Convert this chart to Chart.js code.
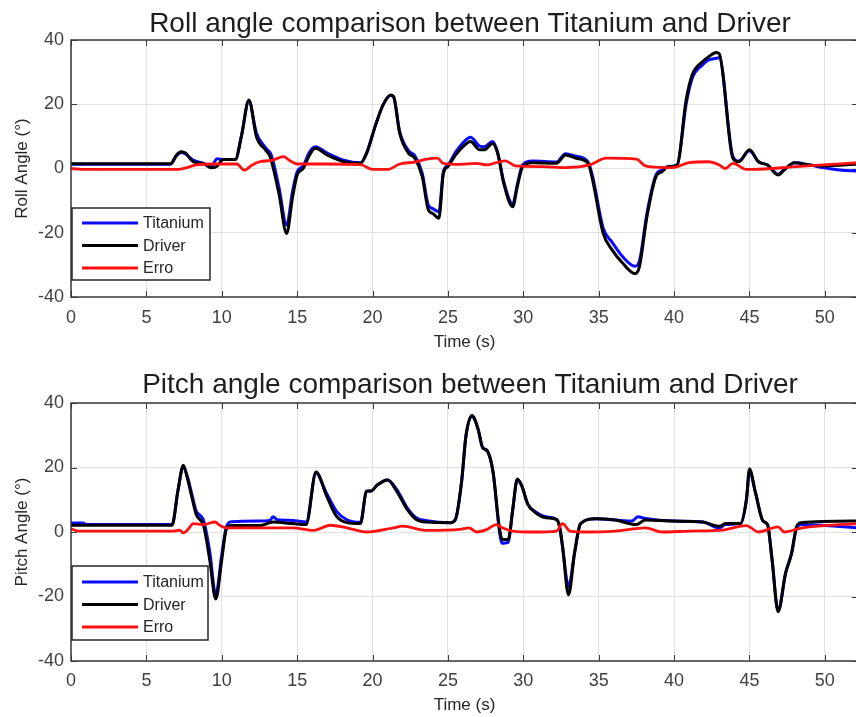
<!DOCTYPE html>
<html>
<head>
<meta charset="utf-8">
<script src="https://cdn.jsdelivr.net/npm/chart.js@4/dist/chart.umd.min.js"></script>
<style>
html, body { margin: 0; padding: 0; background: #fff; width: 856px; height: 717px; overflow: hidden; }
.plot { position: absolute; left: 0; }
</style>
</head>
<body>
<div class="plot" style="top:0"><canvas id="roll" width="858" height="358"></canvas></div>
<div class="plot" style="top:358px"><canvas id="pitch" width="858" height="359"></canvas></div>
<script>
// --- roll angle (top plot), time in s, angle in degrees ---
const rollTitaniumT = [0, 6.6, 7.0, 7.3, 7.6, 8.1, 8.8, 9.3, 9.7, 10.1, 10.9, 11.3, 11.8, 12.3, 12.9, 13.3, 13.8, 14.3, 14.7, 15.0, 15.4, 15.8, 16.2, 17.0, 18.1, 19.2, 19.6, 20.2, 20.7, 21.2, 21.4, 21.8, 22.4, 22.8, 23.3, 23.7, 24.0, 24.4, 24.7, 25.0, 25.5, 26.0, 26.5, 27.1, 27.4, 27.96, 28.3, 28.7, 29.3, 29.6, 29.96, 30.6, 32.2, 32.8, 33.5, 34.3, 34.6, 35.3, 35.9, 36.6, 37.4, 37.7, 38.2, 38.8, 39.2, 39.6, 40.2, 40.8, 41.2, 41.9, 42.3, 42.8, 43.0, 43.9, 44.3, 45.0, 45.6, 46.2, 46.9, 47.3, 48.0, 49.0, 50.0, 51.0, 52.2];
const rollTitaniumV = [1.3, 1.3, 4.0, 5.0, 4.5, 2.6, 1.6, 0.8, 3.0, 2.8, 2.8, 10, 21.0, 11, 6.5, 4, -6, -17.6, -7, -1, 0.8, 5, 6.8, 4.8, 2.6, 1.8, 4.7, 13.5, 19.8, 22.7, 22.2, 11.5, 5.5, 4, -1.5, -11.4, -12.5, -13.5, -1, 1, 5, 8, 9.7, 7, 6.8, 8.4, 5, -4, -11, -5, 1.2, 2.3, 2, 4.6, 3.8, 2, -2.5, -18.6, -23, -27.5, -30.4, -28.8, -14, -2, -0.5, 0.6, 1.1, 20, 28, 32.3, 33.8, 34.3, 34.5, 3.8, 2.3, 5.5, 2.1, 1.1, -1.8, -0.3, 1.8, 1.1, 0.2, -0.5, -0.8];

const rollDriverT = [0, 6.6, 7.0, 7.3, 7.6, 8.1, 8.8, 9.3, 9.7, 10.1, 10.9, 11.3, 11.8, 12.3, 12.9, 13.2, 13.8, 14.3, 14.7, 15.0, 15.4, 15.8, 16.2, 17.0, 18.1, 19.2, 19.6, 20.2, 20.7, 21.2, 21.4, 21.8, 22.4, 22.8, 23.3, 23.7, 24.0, 24.4, 24.7, 25.0, 25.5, 26.0, 26.5, 27.1, 27.4, 27.96, 28.3, 28.7, 29.3, 29.6, 29.96, 30.6, 32.2, 32.8, 33.5, 34.3, 34.6, 35.3, 35.9, 36.6, 37.4, 37.7, 38.2, 38.8, 39.2, 39.6, 40.2, 40.8, 41.2, 41.9, 42.3, 42.8, 43.0, 43.9, 44.3, 45.0, 45.6, 46.2, 46.9, 47.3, 48.0, 49.0, 49.9, 52.2];
const rollDriverV = [1.5, 1.5, 4.2, 5.2, 4.8, 2.1, 1.5, 0.2, 0.8, 2.8, 2.8, 10, 21.3, 9.9, 5.8, 3.7, -8, -20.2, -8.8, -2, 0, 4, 6.3, 4.2, 2.1, 1.6, 4.7, 13.5, 19.8, 22.9, 22.4, 11, 4.7, 3.2, -2.5, -12.9, -14, -15.5, -1.5, 0.6, 4.2, 6.8, 8.4, 5.8, 5.8, 7.8, 4.7, -4.6, -11.9, -5.7, 0.6, 1.8, 1.6, 4.2, 3.2, 1.6, -3.6, -20.2, -25.4, -29.5, -32.7, -30.6, -15, -2.5, -1, 0.6, 1.1, 21.3, 29.1, 33.3, 34.8, 36.1, 35.7, 3.2, 2.1, 5.8, 2.1, 1.1, -2, -0.5, 1.8, 1.1, 0.8, 1.4];

const rollErroT = [0, 1, 7.1, 7.7, 8.3, 9.5, 11.0, 11.5, 12.0, 12.5, 13.3, 14.1, 14.5, 15.0, 17.0, 19.2, 20.0, 21.0, 21.8, 22.8, 23.6, 24.3, 24.7, 25.8, 26.9, 27.6, 28.2, 28.8, 29.5, 31.3, 32.8, 34.4, 35.5, 37.5, 38.1, 38.8, 39.9, 41.0, 42.3, 43.0, 43.4, 43.9, 44.8, 46.5, 47.6, 49.9, 52.2];
const rollErroV = [0, -0.3, -0.3, 0.3, 1.1, 1.4, 1.4, -0.5, 1.0, 2.1, 2.5, 3.7, 2.5, 1.4, 1.4, 1.2, -0.3, -0.3, 1.4, 2.0, 2.9, 3.2, 1.6, 1.3, 1.6, 1.1, 1.8, 2.4, 0.8, 0.6, 0.3, 1.1, 3.2, 2.9, 0.8, 0.4, 0.3, 1.8, 2.1, 1.1, 0, 1.6, -0.3, 0, 0.4, 1.1, 1.8];

// --- pitch angle (bottom plot) ---
const pitchTitaniumT = [0, 0.8, 1.0, 6.7, 7.1, 7.45, 7.7, 8.0, 8.3, 8.6, 8.8, 9.2, 9.6, 10.0, 10.3, 10.65, 12.5, 13.2, 13.4, 13.7, 14.7, 15.6, 16.25, 16.95, 17.6, 18.3, 19.2, 19.6, 19.9, 20.3, 21.0, 21.6, 22.3, 22.9, 23.6, 25.2, 25.5, 25.9, 26.2, 26.6, 27.0, 27.3, 27.6, 28.0, 28.4, 28.6, 29.0, 29.3, 29.6, 29.9, 30.3, 30.8, 31.5, 32.2, 32.4, 32.6, 33.0, 33.4, 33.8, 34.8, 36.1, 37.2, 37.6, 38.1, 39.9, 41.9, 43.0, 43.4, 44.4, 44.8, 45.0, 45.4, 45.9, 46.2, 46.5, 46.9, 47.4, 47.8, 48.1, 48.4, 50.0, 52.2];
const pitchTitaniumV = [2.8, 2.8, 2.3, 2.3, 13, 20.3, 17.5, 12, 6.5, 5, 3.5, -6, -19.5, -7, 1.5, 3.2, 3.4, 3.6, 4.7, 3.8, 3.6, 3.1, 18.3, 12, 6.5, 3.8, 3.0, 12.5, 12.7, 14.5, 16.1, 13.2, 7.5, 4.4, 3.5, 2.9, 3.9, 15.3, 29.9, 35.8, 31.9, 26.2, 25.2, 18.4, 0.8, -3.5, -3.2, 7, 16.2, 14.3, 8.6, 6.3, 4.7, 3.9, 1.8, -4.4, -17, -6.5, 2.6, 4.1, 3.7, 3.4, 4.7, 4.2, 3.4, 3.1, 1.2, 2.3, 2.6, 10.1, 18.8, 12.2, 3.4, 2.3, -8.6, -24.3, -12.7, -6.5, 0.8, 2.3, 2.0, 1.3];

const pitchDriverT = [0, 6.7, 7.1, 7.45, 7.7, 8.0, 8.3, 8.8, 9.2, 9.6, 10.0, 10.3, 10.65, 12.5, 13.4, 14.7, 15.6, 16.25, 16.95, 17.6, 18.3, 19.2, 19.6, 19.9, 20.3, 21.0, 21.6, 22.3, 22.9, 23.6, 25.2, 25.5, 25.9, 26.2, 26.6, 27.0, 27.3, 27.6, 28.0, 28.4, 28.6, 29.0, 29.3, 29.6, 29.9, 30.3, 30.8, 31.5, 32.2, 32.4, 32.6, 33.0, 33.4, 33.8, 34.8, 36.1, 37.5, 38.1, 39.9, 41.9, 43.0, 43.4, 44.4, 44.8, 45.0, 45.4, 45.9, 46.2, 46.5, 46.9, 47.4, 47.8, 48.1, 48.4, 52.2];
const pitchDriverV = [2.1, 2.1, 13, 20.7, 17, 11.2, 5.5, 1.8, -8.6, -20.8, -8.6, 0.8, 2.0, 2.0, 3.1, 2.6, 2.3, 18.6, 11.2, 4.9, 2.9, 2.6, 12.7, 12.7, 14.5, 16.1, 12.7, 7.0, 3.9, 3.1, 2.9, 3.9, 15.3, 29.9, 36.1, 31.9, 26.2, 25.2, 18.4, 1.8, -2.3, -2.3, 7, 16.4, 14.3, 8.6, 6.0, 4.4, 3.9, 1.8, -4.4, -19.5, -6.5, 2.6, 4.1, 3.7, 2.3, 3.7, 3.4, 3.1, 1.8, 2.6, 2.6, 10.1, 19.5, 12.2, 3.4, 2.3, -8.6, -24.7, -12.7, -6.5, 1.3, 2.9, 3.4];

const pitchErroT = [0, 0.5, 6.8, 7.2, 7.45, 7.8, 8.1, 8.8, 9.55, 9.9, 10.3, 12.5, 14.7, 16.1, 17.2, 18.3, 19.6, 21.4, 22.0, 23.6, 25.8, 26.4, 26.9, 27.6, 28.2, 28.6, 29.3, 30.6, 32.2, 32.6, 33.1, 34.4, 36.1, 38.1, 39.2, 41.0, 43.2, 44.8, 45.6, 46.9, 47.3, 48.5, 52.2];
const pitchErroV = [1.0, 0.3, 0.3, 0.6, -0.3, 1, 2.6, 2.3, 3.1, 2.0, 1.3, 1.3, 1.3, 0.5, 2.1, 1.3, 0, 1.3, 1.8, 0.5, 0.8, 1.3, 0, 0.8, 2.3, 1.3, 0.3, 0, 0.3, 2.6, 0.3, 0, 0.3, 1.3, 0, 0.3, 0.6, 2.0, 0, 1.6, 0, 1.3, 2.6];

const xTicksStep = 5;
const yTicksStep = 20;

const FONT = '"Liberation Sans", Arial, Helvetica, sans-serif';

const pts = (t, v) => t.map((x, i) => ({ x, y: v[i] }));

// matlab-like box, inward ticks, title and legend
const matlabAxes = {
    id: 'matlabAxes',
    beforeDatasetsDraw(chart) {
        const { ctx, chartArea: a, scales: { x, y } } = chart;
        ctx.save();
        ctx.strokeStyle = '#3a3a3a';
        ctx.lineWidth = 1;
        ctx.beginPath();
        x.ticks.forEach(t => {
            const px = Math.round(x.getPixelForValue(t.value)) + 0.5;
            ctx.moveTo(px, a.bottom); ctx.lineTo(px, a.bottom - 6);
            ctx.moveTo(px, a.top); ctx.lineTo(px, a.top + 6);
        });
        y.ticks.forEach(t => {
            const py = Math.round(y.getPixelForValue(t.value)) + 0.5;
            ctx.moveTo(a.left, py); ctx.lineTo(a.left + 6, py);
            ctx.moveTo(a.right, py); ctx.lineTo(a.right - 6, py);
        });
        ctx.stroke();
        ctx.restore();
    },
    afterDatasetsDraw(chart, args, opts) {
        const { ctx, chartArea: a } = chart;
        ctx.save();
        // box
        ctx.strokeStyle = '#3a3a3a';
        ctx.lineWidth = 1.5;
        ctx.strokeRect(a.left, a.top, a.right - a.left, a.bottom - a.top);

        // legend
        const lb = opts.legend;
        const lx = a.left + 1;
        ctx.fillStyle = '#fff';
        ctx.fillRect(lx, lb.top, lb.width, lb.height);
        ctx.strokeStyle = '#262626';
        ctx.lineWidth = 1.5;
        ctx.strokeRect(lx, lb.top, lb.width, lb.height);
        ctx.font = `16px ${FONT}`;
        ctx.textBaseline = 'middle';
        ctx.textAlign = 'left';
        chart.data.datasets.forEach((ds, i) => {
            const yy = lb.top + lb.first + i * lb.step;
            ctx.strokeStyle = ds.borderColor;
            ctx.lineWidth = 3;
            ctx.beginPath();
            ctx.moveTo(lx + 10, yy); ctx.lineTo(lx + 66, yy);
            ctx.stroke();
            ctx.fillStyle = '#262626';
            ctx.fillText(ds.label, lx + 71, yy + 1);
        });

        // title
        ctx.font = `28px ${FONT}`;
        ctx.fillStyle = '#1e1e1e';
        ctx.textAlign = 'center';
        ctx.textBaseline = 'alphabetic';
        ctx.fillText(opts.title, opts.titleX, opts.titleY);
        ctx.restore();
    }
};

function maakPlot(canvasId, titel, yLabel, ti, dr, er, padTop, xHeight, tickPad, xTitlePad, legend, titleY) {
    return new Chart(document.getElementById(canvasId), {
        type: 'line',
        data: {
            datasets: [
                { label: 'Titanium', data: pts(ti[0], ti[1]), borderColor: '#0a0aff', borderWidth: 3, order: 2 },
                { label: 'Driver', data: pts(dr[0], dr[1]), borderColor: '#000000', borderWidth: 3, order: 1 },
                { label: 'Erro', data: pts(er[0], er[1]), borderColor: '#ff1010', borderWidth: 2.8, order: 0 }
            ]
        },
        options: {
            responsive: false,
            animation: false,
            events: [],
            layout: { padding: { top: padTop, left: 0, right: 0, bottom: 0 } },
            elements: {
                point: { radius: 0 },
                line: { cubicInterpolationMode: 'monotone', borderJoinStyle: 'round', borderCapStyle: 'round' }
            },
            plugins: {
                legend: { display: false },
                tooltip: { enabled: false },
                matlabAxes: { title: titel, titleX: 470, titleY: titleY, legend }
            },
            scales: {
                x: {
                    type: 'linear', min: 0, max: 52.2,
                    border: { display: false },
                    grid: { color: '#e0e0e0', lineWidth: 1, drawTicks: false },
                    ticks: { stepSize: xTicksStep, includeBounds: false, padding: tickPad, color: '#404040', font: { family: FONT, size: 18 } },
                    title: { display: true, text: 'Time (s)', color: '#262626', padding: { top: 0, bottom: xTitlePad }, font: { family: FONT, size: 17 } },
                    afterFit(scale) { scale.height = xHeight; }
                },
                y: {
                    min: -40, max: 40,
                    border: { display: false },
                    grid: { color: '#e0e0e0', lineWidth: 1, drawTicks: false },
                    ticks: { stepSize: yTicksStep, padding: 7, color: '#404040', font: { family: FONT, size: 18 } },
                    title: { display: true, text: yLabel, color: '#262626', padding: { top: 12, bottom: 0 }, font: { family: FONT, size: 17 } },
                    afterFit(scale) { scale.width = 71; }
                }
            }
        },
        plugins: [matlabAxes]
    });
}

maakPlot('roll', 'Roll angle comparison between Titanium and Driver', 'Roll Angle (°)',
    [rollTitaniumT, rollTitaniumV], [rollDriverT, rollDriverV], [rollErroT, rollErroV],
    40, 61, 10, 5, { top: 208, width: 138, height: 72, first: 15, step: 22.5 }, 32);

maakPlot('pitch', 'Pitch angle comparison between Titanium and Driver', 'Pitch Angle (°)',
    [pitchTitaniumT, pitchTitaniumV], [pitchDriverT, pitchDriverV], [pitchErroT, pitchErroV],
    45, 56, 9, 1, { top: 208, width: 136, height: 74, first: 16, step: 22.5 }, 35);
</script>
</body>
</html>
